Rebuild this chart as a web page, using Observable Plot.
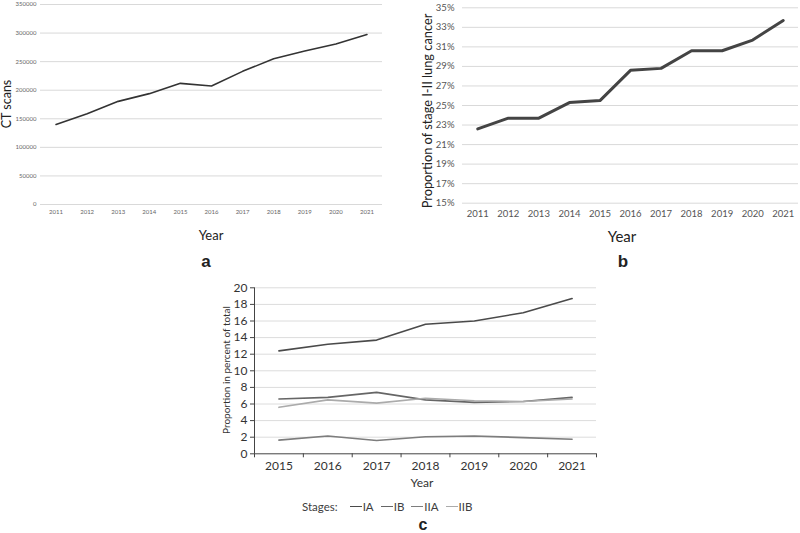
<!DOCTYPE html>
<html><head><meta charset="utf-8">
<script src="https://cdn.jsdelivr.net/npm/d3@7"></script>
<script src="https://cdn.jsdelivr.net/npm/@observablehq/plot@0.6"></script>
<style>
body{margin:0;background:#fff;}
#root{position:relative;width:800px;height:533px;overflow:hidden;background:#fff;font-family:Lato,"Open Sans",sans-serif;}
.p{position:absolute;left:0;top:0;}
.t{position:absolute;transform:translate(-50%,-50%);white-space:nowrap;color:#404040;font-family:Lato,sans-serif;line-height:1;}
.r{transform:translate(-50%,-50%) rotate(-90deg);}
.L{font-family:"Liberation Sans",Arial,sans-serif;font-weight:bold;color:#222;font-size:17px;line-height:1;}
.leg{position:absolute;top:500px;left:302px;font-family:Lato,sans-serif;font-size:11.5px;color:#404040;display:flex;align-items:center;white-space:nowrap;}
.leg .sw{display:inline-block;width:12px;height:0;border-top:1.5px solid;margin:0 1px 0 0;}
.leg .it{margin-right:7px;}
</style></head>
<body><div id="root"></div>
<script>
// ---- data ----
const yearsA = [2011,2012,2013,2014,2015,2016,2017,2018,2019,2020,2021];
const ctScans = [140000,159000,180500,194000,212000,207500,233000,255000,268500,281000,297500];
const ticksA = [0,50000,100000,150000,200000,250000,300000,350000];

const yearsB = [2011,2012,2013,2014,2015,2016,2017,2018,2019,2020,2021];
const stageIII = [22.6,23.7,23.7,25.3,25.5,28.6,28.8,30.6,30.6,31.7,33.7];
const ticksB = [15,17,19,21,23,25,27,29,31,33,35];

const yearsC = [2015,2016,2017,2018,2019,2020,2021];
const stageIA  = [12.4,13.2,13.7,15.6,16.0,17.0,18.7];
const stageIB  = [6.6,6.8,7.4,6.5,6.2,6.3,6.8];
const stageIIA = [1.65,2.15,1.6,2.05,2.15,1.95,1.75];
const stageIIB = [5.6,6.5,6.1,6.7,6.4,6.3,6.6];
const ticksC = [0,2,4,6,8,10,12,14,16,18,20];
const stageNames = ["IA","IB","IIA","IIB"];
const stageColors = ["#4a4a4a","#666666","#7d7d7d","#ababab"];

const root = document.getElementById("root");
function place(svg, left, top){
  const d = document.createElement("div"); d.className="p";
  d.style.left=left+"px"; d.style.top=top+"px"; d.appendChild(svg); root.appendChild(d);
}
function txt(s, x, y, cls, css){
  const d = document.createElement("div"); d.className="t "+(cls||"");
  d.textContent=s; d.style.left=x+"px"; d.style.top=y+"px";
  Object.assign(d.style, css||{}); root.appendChild(d);
}
const pad = arr => [d3.min(arr)-0.5, d3.max(arr)+0.5];

// ---- panel a ----
const dataA = yearsA.map((y,i)=>({year:y, v:ctScans[i]}));
place(Plot.plot({
  width:400, height:220, marginLeft:40, marginRight:18, marginTop:4, marginBottom:16,
  x:{domain:pad(yearsA)}, y:{domain:[0,350000]},
  style:{fontFamily:"Lato,sans-serif", fontSize:"6px", color:"#666", background:"transparent", overflow:"visible"},
  marks:[
    Plot.ruleY(ticksA,{stroke:"#d9d9d9", strokeWidth:1}),
    Plot.axisY({ticks:ticksA, tickSize:0, tickPadding:4, tickFormat:d=>String(d), label:null}),
    Plot.axisX({ticks:yearsA, tickSize:0, tickPadding:5, tickFormat:d=>String(d), label:null}),
    Plot.line(dataA,{x:"year", y:"v", stroke:"#333", strokeWidth:1.6})
  ]
}), 0, 0);
txt("CT scans", 7, 104, "r", {fontSize:"12.5px", color:"#222"});
txt("Year", 211, 235, "", {fontSize:"13px", color:"#222"});
txt("a", 206, 261, "L");

// ---- panel b ----
const dataB = yearsB.map((y,i)=>({year:y, v:stageIII[i]}));
place(Plot.plot({
  width:400, height:225, marginLeft:62, marginRight:2, marginTop:7.3, marginBottom:22.3,
  x:{domain:pad(yearsB)}, y:{domain:[15,35]},
  style:{fontFamily:"Lato,sans-serif", fontSize:"9.5px", color:"#555", background:"transparent", overflow:"visible"},
  marks:[
    Plot.ruleY(ticksB,{stroke:"#d9d9d9", strokeWidth:1}),
    Plot.axisY({ticks:ticksB, tickSize:0, tickPadding:8, tickFormat:d=>d+"%", label:null}),
    Plot.axisX({ticks:yearsB, tickSize:0, tickPadding:7, tickFormat:d=>String(d), label:null}),
    Plot.line(dataB,{x:"year", y:"v", stroke:"#444", strokeWidth:3})
  ]
}), 400, 0);
txt("Proportion of stage I-II lung cancer", 427, 111, "r", {fontSize:"12.8px", color:"#222"});
txt("Year", 622, 236, "", {fontSize:"15px", color:"#222"});
txt("b", 623, 261, "L");

// ---- panel c ----
const seriesC = [stageIA, stageIB, stageIIA, stageIIB];
const dataC = seriesC.flatMap((s,k)=>yearsC.map((y,i)=>({year:y, v:s[i], stage:stageNames[k]})));
const domC = pad(yearsC);
const bounds = [...yearsC.map(y=>y-0.5), d3.max(yearsC)+0.5];
place(Plot.plot({
  width:420, height:205, marginLeft:74, marginRight:4, marginTop:17.3, marginBottom:21.7,
  x:{domain:domC}, y:{domain:[0,20]},
  color:{domain:stageNames, range:stageColors},
  style:{fontFamily:"Lato,sans-serif", fontSize:"12px", color:"#333", background:"transparent", overflow:"visible"},
  marks:[
    Plot.ruleY(ticksC.filter(d=>d>0),{stroke:"#dcdcdc", strokeWidth:1}),
    Plot.axisY({ticks:ticksC, tickSize:4, tickPadding:3, tickFormat:d=>String(d), label:null, stroke:"#444"}),
    Plot.axisX({ticks:bounds, tickSize:4, tickFormat:()=>"", label:null, stroke:"#444"}),
    Plot.axisX({ticks:yearsC, tickSize:0, tickPadding:8, tickFormat:d=>String(d), label:null}),
    Plot.ruleX([domC[0]],{stroke:"#444", strokeWidth:1}),
    Plot.ruleY([0],{stroke:"#444", strokeWidth:1}),
    Plot.line(dataC,{x:"year", y:"v", z:"stage", stroke:"stage", strokeWidth:1.6})
  ]
}), 180, 270);
txt("Proportion in percent of total", 226, 370, "r", {fontSize:"10px", color:"#333"});
txt("Year", 422, 483, "", {fontSize:"12px", color:"#333"});
txt("c", 423, 525, "L", {fontSize:"16px"});

const leg = document.createElement("div"); leg.className="leg";
leg.innerHTML = '<span style="margin-right:12px">Stages:</span>' +
  stageNames.map((n,i)=>`<span class="sw" style="border-color:${stageColors[i]}"></span><span class="it">${n}</span>`).join("");
root.appendChild(leg);
</script>
</body></html>
